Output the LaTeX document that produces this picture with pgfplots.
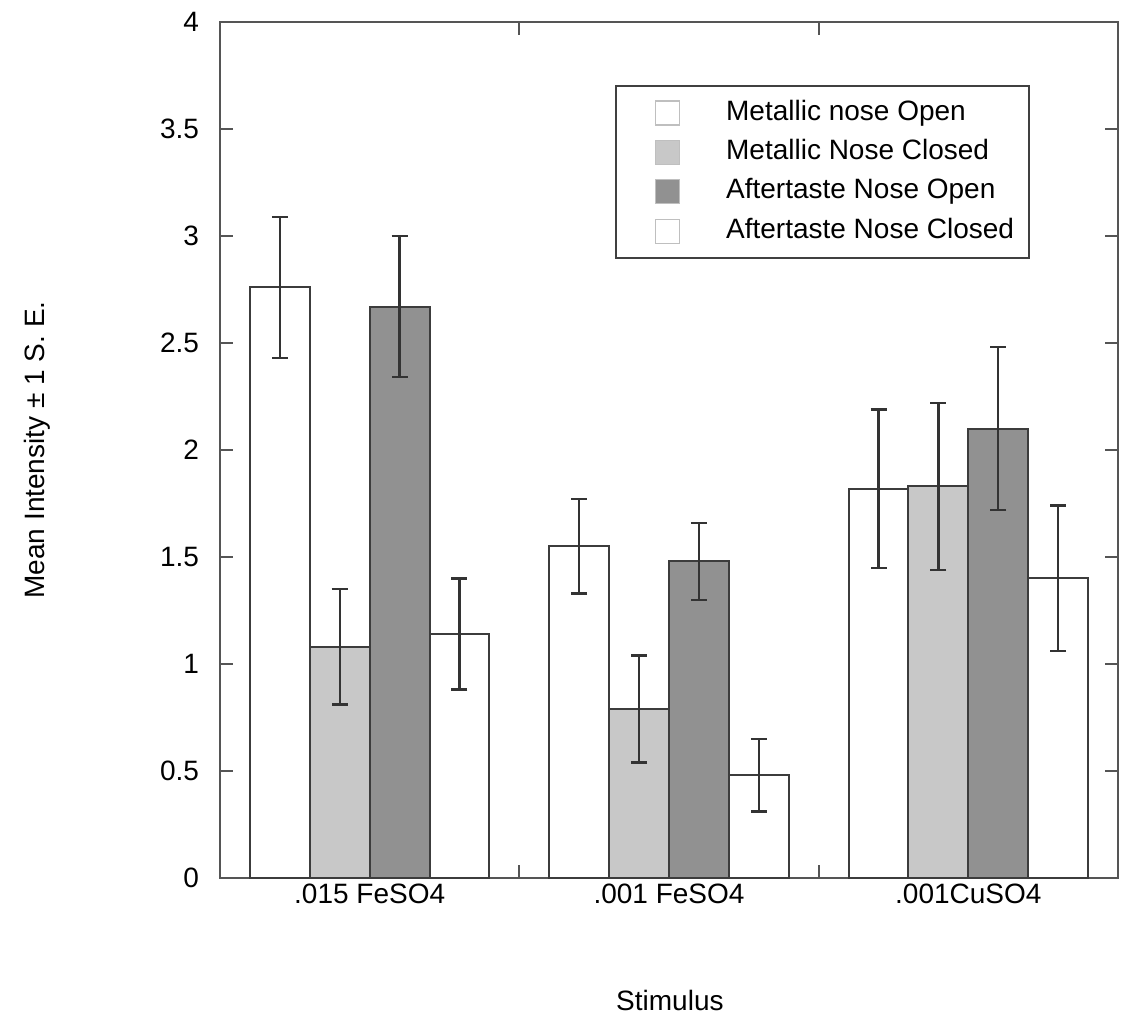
\documentclass[border=0pt]{standalone}
\usepackage{fontspec}
\setmainfont{Liberation Sans}
\usepackage{pgfplots}
\pgfplotsset{compat=1.18}
\usetikzlibrary{calc}
\definecolor{lightbar}{RGB}{200,200,200}
\definecolor{darkbar}{RGB}{145,145,145}
\definecolor{edge}{RGB}{60,60,60}
\definecolor{frame}{RGB}{85,85,85}
\newcommand{\fs}{\fontsize{14}{17}\selectfont}
\begin{document}
\begin{tikzpicture}
\begin{axis}[
  ybar, bar width=0.2,
  scale only axis,
  width=449pt, height=428pt,
  xmin=0.5, xmax=3.5, ymin=0, ymax=4,
  ytick={0,0.5,1,1.5,2,2.5,3,3.5,4},
  yticklabels={0,0.5,1,1.5,2,2.5,3,3.5,4},
  xtick={1.5,2.5}, xticklabels={,},
  extra x ticks={1,2,3},
  extra x tick labels={.015 FeSO4,.001 FeSO4,.001CuSO4},
  extra x tick style={major tick length=0pt},
  tick align=inside, xtick align=inside, ytick align=inside,
  major tick length=6.5pt,
  axis line style={draw=frame, line width=1.3pt},
  tick style={draw=frame, line width=1.1pt},
  tick label style={font=\fs},
  yticklabel style={xshift=-7pt},
  xticklabel style={yshift=0.5pt},
  ylabel={Mean Intensity ± 1 S. E.},
  xlabel={Stimulus},
  ylabel style={at={(axis description cs:-0.204,0.5)}, anchor=center, font=\fs},
  xlabel style={at={(axis description cs:0.501,-0.1425)}, anchor=center, font=\fs},
  error bars/y dir=both, error bars/y explicit,
  error bars/error bar style={line width=1.2pt, draw=black!80},
  error bars/error mark options={rotate=90, mark size=4pt, line width=1.2pt, draw=black!80},
  legend style={at={(rel axis cs:0.44,0.926)}, anchor=north west, draw=black!75, line width=1pt,
    font=\fs, inner xsep=7.5pt, inner ysep=3.5pt, row sep=0pt, column sep=0pt,
    nodes={inner xsep=0pt, inner ysep=3.35pt, text height=10pt, text depth=3pt}},
  legend cell align=left,
  legend image code/.code={
    \path (0pt,0pt) (46.5pt,0pt);
    \draw[#1, draw=black!25, line width=0.6pt] (11.5pt,-6pt) rectangle (23.5pt,6pt);
  },
]
\addplot[fill=white, draw=edge, line width=1pt, bar shift=-0.3] coordinates {
  (1,2.76) +- (0,0.33)
  (2,1.55) +- (0,0.22)
  (3,1.82) +- (0,0.37)
};
\addlegendentry{Metallic nose Open}
\addplot[fill=lightbar, draw=edge, line width=1pt, bar shift=-0.1] coordinates {
  (1,1.08) +- (0,0.27)
  (2,0.79) +- (0,0.25)
  (3,1.83) +- (0,0.39)
};
\addlegendentry{Metallic Nose Closed}
\addplot[fill=darkbar, draw=edge, line width=1pt, bar shift=0.1] coordinates {
  (1,2.67) +- (0,0.33)
  (2,1.48) +- (0,0.18)
  (3,2.10) +- (0,0.38)
};
\addlegendentry{Aftertaste Nose Open}
\addplot[fill=white, draw=edge, line width=1pt, bar shift=0.3] coordinates {
  (1,1.14) +- (0,0.26)
  (2,0.48) +- (0,0.17)
  (3,1.40) +- (0,0.34)
};
\addlegendentry{Aftertaste Nose Closed}
\coordinate (A) at (rel axis cs:0,0);
\coordinate (B) at (rel axis cs:1,1);
\end{axis}
\pgfresetboundingbox
\path ($(A)+(-110pt,-72.5pt)$) rectangle ($(B)+(1.5pt,11pt)$);
\end{tikzpicture}
\end{document}
